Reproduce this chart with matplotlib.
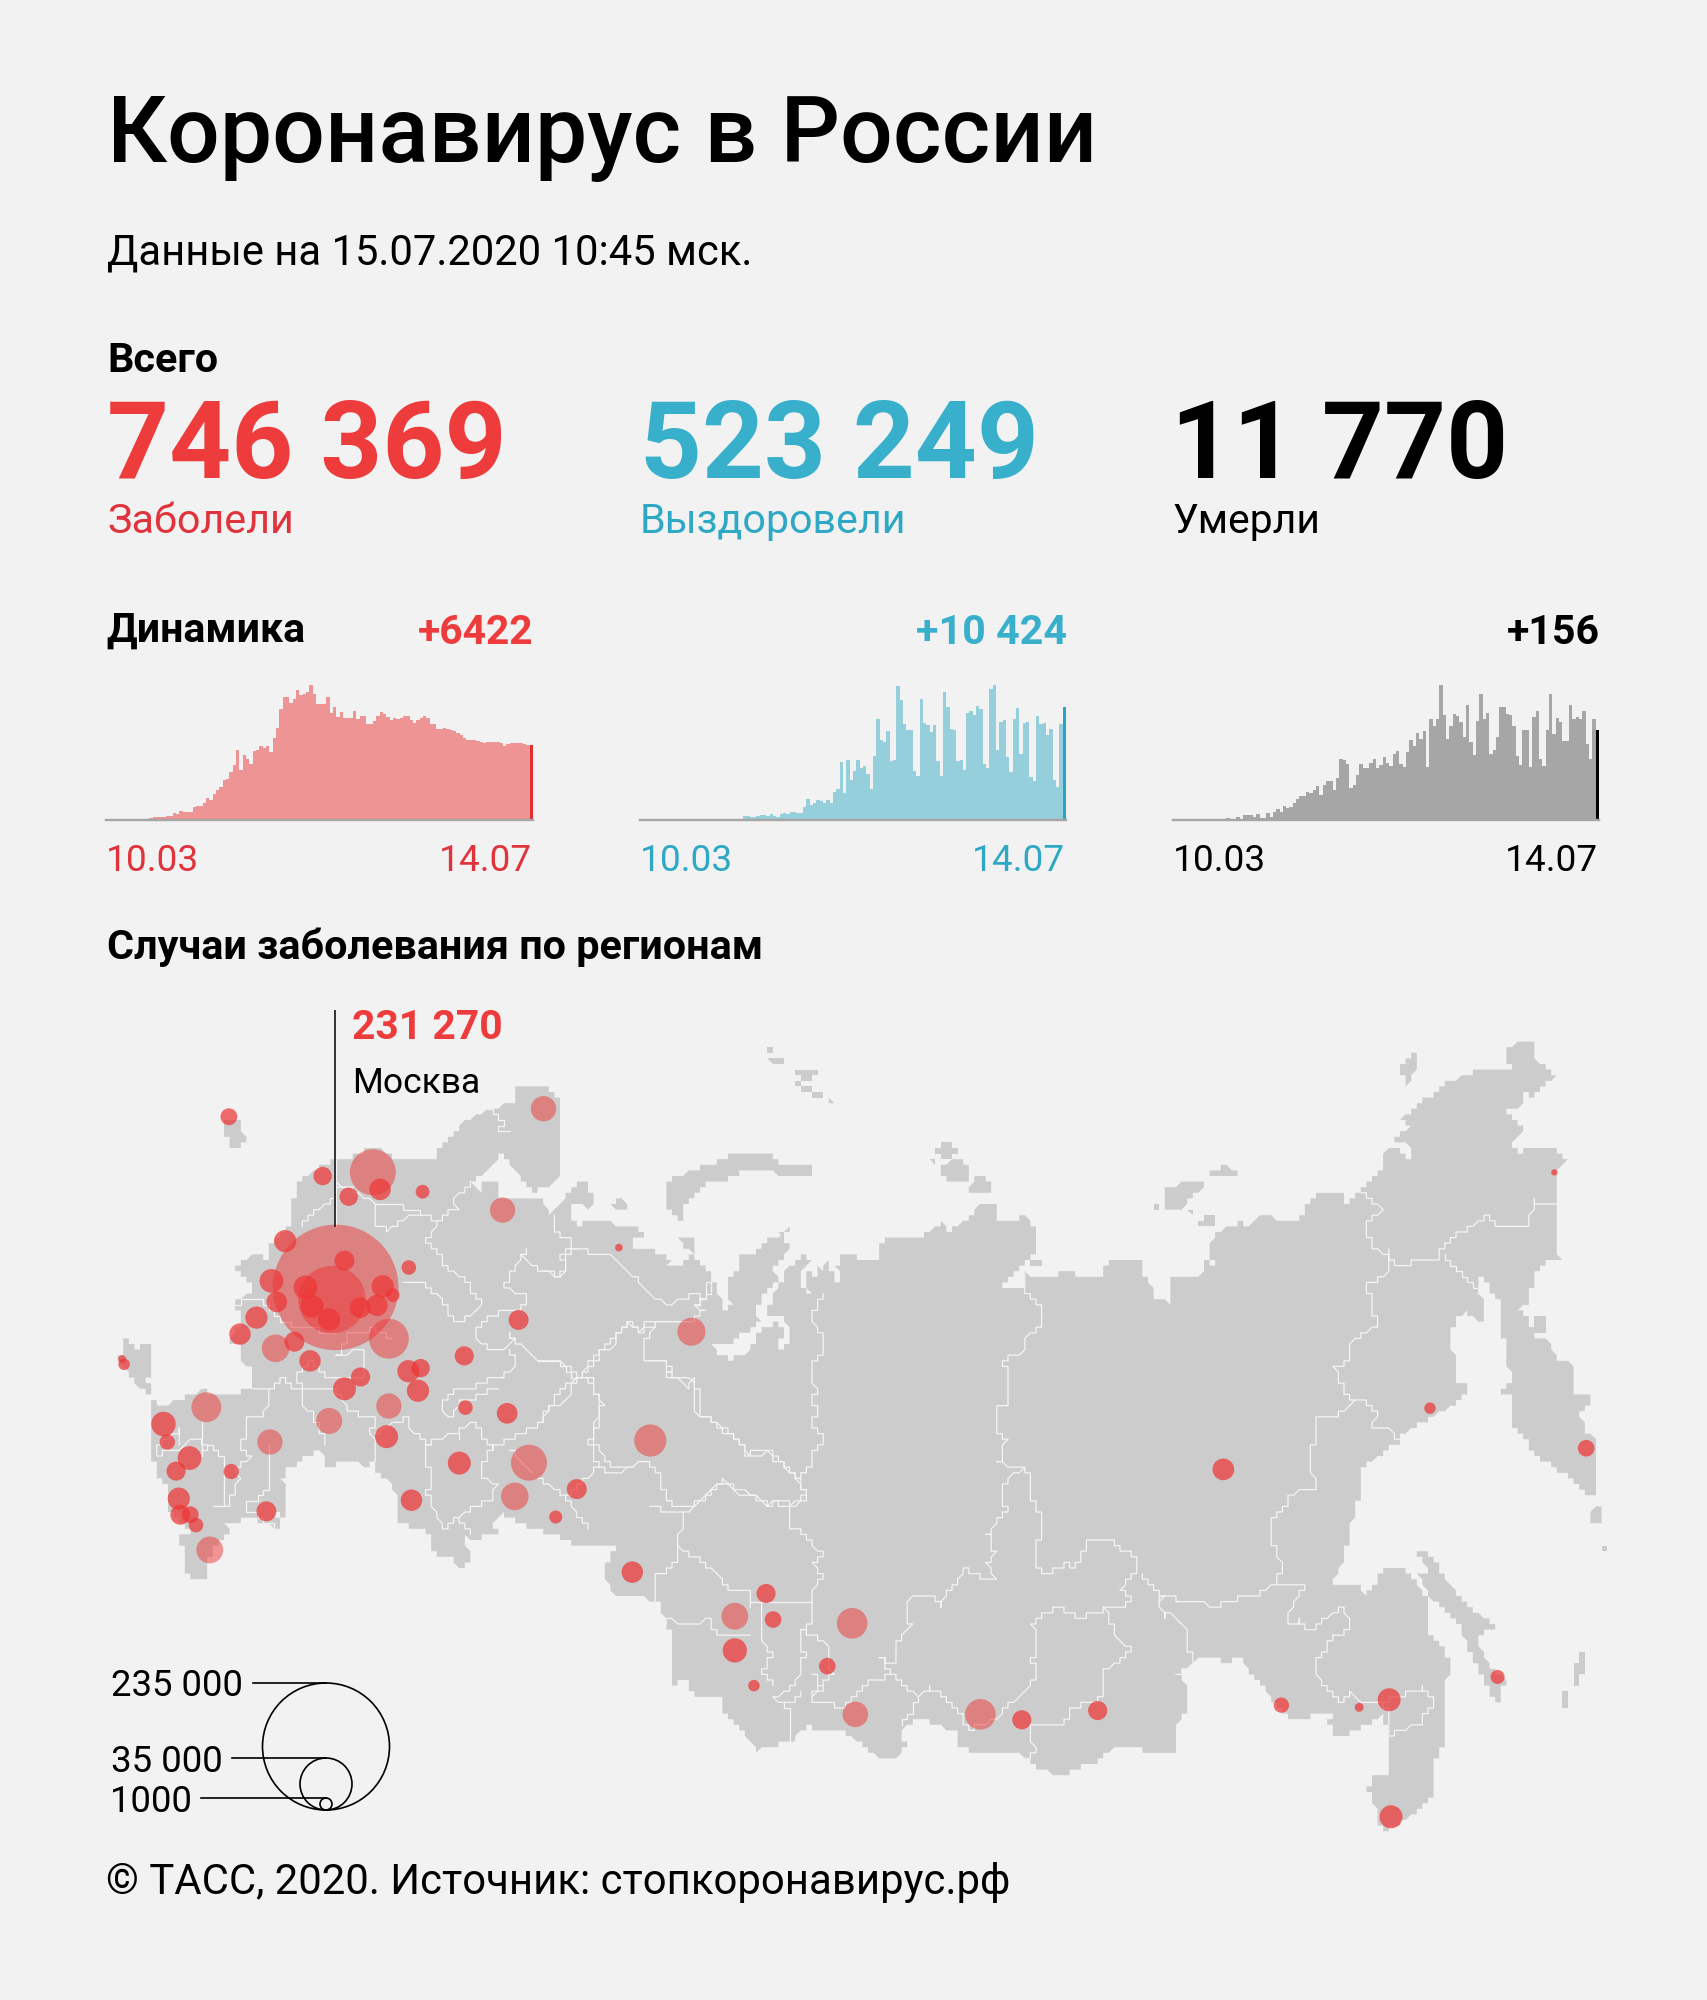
import numpy as np
import matplotlib
matplotlib.use('Agg')
import matplotlib.pyplot as plt
from matplotlib.patches import Circle, Polygon

plt.rcParams['font.family'] = ['Roboto', 'DejaVu Sans']

BG = '#f2f2f2'
LAND = '#cccccc'
RED = '#ee3b3c'
BLUE = '#38b0cc'

# daily numbers, 10.03 - 14.07
infected = [30,30,30,30,30,60,60,60,85,85,
    90,115,115,145,230,230,260,290,320,375,
    575,520,805,720,660,720,1095,1240,1240,1500,
    1870,1730,2245,2590,2795,3455,3515,4090,4750,6050,
    4320,5615,5270,4780,5905,5990,6335,6190,6395,5845,
    7085,7920,9560,10570,10570,10080,10425,11175,10715,10800,
    11000,11605,10800,9935,9935,9965,10570,9215,9675,8870,
    9245,8785,8785,8785,9390,8640,8930,8930,8295,8295,
    8495,8930,9245,9070,8870,8580,8810,8725,8810,8930,
    8930,8580,8350,8580,8810,8930,8785,8295,8235,7860,
    7805,7920,7860,7775,7660,7490,7285,7085,6855,6855,
    6855,6770,6710,6625,6740,6710,6680,6680,6650,6335,
    6510,6625,6625,6625,6625,6540,6420,6422]
recovered = [5,5,5,5,5,5,5,5,5,5,5,5,5,10,10,10,10,15,15,15,
    30,30,30,25,25,35,45,50,55,60,70,
    340,340,310,310,400,430,430,370,555,370,280,555,615,555,710,710,615,680,1170,
    1910,1390,1600,1850,1700,1540,1850,1540,2530,2870,5335,2470,5550,3700,4530,5550,4780,4930,4255,2870,
    5920,9250,7340,7185,8170,5400,5550,12335,11040,8790,8265,8265,4470,4010,11100,8945,8730,8080,8730,5400,
    4010,11720,10420,8390,8265,5400,5490,4565,9805,10025,9620,10485,10240,5180,4780,12030,12400,6385,9005,9190,
    5770,4410,9250,10330,6105,8945,9005,3950,3545,9560,8790,8880,7770,8390,3700,2990,8850,10424]
deaths = [0,0,0,0,0,0,0,0,0,0,0,0,0,0,0,0,
    3,2,2,5,2,9,9,8,6,10,4,4,12,6,14,19,14,25,21,23,29,36,42,42,
    49,46,52,58,44,61,68,68,51,73,106,103,97,55,60,77,96,89,90,99,
    105,90,95,109,98,94,114,119,96,92,117,138,128,151,140,154,92,175,163,175,
    233,182,139,163,183,179,170,144,198,135,113,171,218,175,184,114,120,144,195,195,
    183,182,162,110,95,155,156,92,177,188,105,94,155,217,148,176,169,136,136,199,
    175,177,175,188,131,105,175,156]

totals = ['746 369', '523 249', '11 770']
total_names = ['Заболели', 'Выздоровели', 'Умерли']
today = ['+6422', '+10 424', '+156']

# outline, each piece in the scale of its own crop
W = (90, 1000, 0.3827, 0.3827)
O = (540, 1130, 1/3, 1/3)
E = (650, 1000, 1/1.568, 1/1.845)
S = (90, 1400, 1/3, 1/3)

coast_north_west = [(520,545),(535,515),(535,490),(590,440),(640,418),(680,415),(735,385),(790,400),(800,418),(900,418),
    (915,385),(975,318),(1045,285),(1110,265),(1110,235),(1130,220),(1180,220),(1225,255),(1225,460),(1195,490),
    (1160,498),(1095,430),(1078,405),(1000,480),(1030,512),(1030,470),(1060,470),(1060,515),(1190,515)]
coast_ob = [(20,255),(40,240),(75,205),(130,145),(150,160),(150,185),(165,205),(150,235),(100,220),(95,270),
    (115,295),(135,280),(210,278),(250,295),(305,298),(320,315),(285,325),(285,350),(320,350),(360,375),
    (395,385),(385,410),(395,425),(400,408),(435,405),(440,370),(455,370),(510,430),(530,470),(550,540),
    (585,520),(565,510),(568,445),(605,405),(590,385),(605,372),(640,372),(700,315),(755,350),(700,415),
    (715,445),(645,535),(660,575),(600,620),(560,650),(510,640),(530,665),(567,690),(630,665),(665,590),
    (715,580),(737,600),(720,635),(720,655),(755,632),(755,600),(725,565),(680,562),(685,530),(700,495),
    (735,440),(735,420),(795,375),(810,395),(775,430),(775,465),(810,488),(795,460),(795,430),(815,430),
    (815,447),(830,447),(830,405),(850,425),(850,405),(868,395),(870,410),(905,480),(905,440),(885,410),
    (910,375),(945,375),(965,390),(1020,390),(1020,335)]
coast_east = [(362,445),(385,435),(430,435),(460,410),(462,430),(500,405),(518,375),(540,375),(540,400),(558,410),
    (590,398),(608,435),(608,460),(565,510),(550,535),(590,525),(590,505),(620,515),(640,505),(668,505),
    (668,515),(715,515),(710,490),(725,480),(770,480),(778,515),(785,525),(788,545),(815,560),(815,505),
    (830,515),(865,505),(868,480),(885,490),(875,460),(890,425),(915,420),(925,410),(935,420),(955,398),
    (975,398),(985,410),(1018,410),(1025,385),(1055,352),(1085,352),(1092,375),(1113,352),(1152,310),(1152,280),
    (1165,270),(1190,295),(1190,268),(1165,258),(1190,235),(1180,218),(1215,185),(1255,150),(1300,130),(1350,125),
    (1340,110),(1345,90),(1375,72),(1388,85),(1388,108),(1418,143),(1380,178),(1365,170),(1365,195),(1330,210),
    (1350,215),(1370,240),(1350,265),(1365,282),(1370,270),(1420,270),(1438,295),(1418,320),(1418,460),(1428,478),
    (1405,480),(1388,505),(1388,530),(1378,530),(1378,565),(1358,570),(1378,590),(1390,625),(1410,630),(1420,660),
    (1455,675),(1445,690),(1450,725),(1477,735),(1458,760),(1465,795),(1485,810),(1485,920),(1465,905),(1435,875),
    (1395,845),(1375,815),(1350,785),(1350,730),(1330,725),(1350,700),(1340,630),(1330,595),(1330,555),(1310,520),
    (1300,505),(1308,600),(1280,575),(1265,590),(1250,625),(1262,660),(1262,705),(1272,710),(1290,715),(1260,750),
    (1240,758),(1225,770),(1195,790),(1175,805),(1172,818),(1115,862),(1110,925),(1095,985),(1090,1030),(1075,1065),
    (1075,1075),(1105,1075),(1120,1095),(1120,1040),(1125,1075),(1125,1095),(1150,1050),(1185,1052),(1200,1075),(1220,1105),
    (1220,1165),(1245,1200),(1258,1235),(1250,1250),(1250,1360),(1230,1410),(1230,1465),(1200,1500),(1150,1535),(1143,1520),
    (1143,1500),(1125,1460),(1135,1430),(1160,1430),(1160,1360),(1150,1320),(1110,1345),(1085,1362),(1075,1355),(1063,1330),
    (1075,1315),(1040,1320),(1020,1328),(1005,1325),(965,1275),(925,1212),(905,1222),(880,1212),(860,1215),(828,1245),
    (845,1270),(845,1310),(825,1335),(825,1385),(775,1385),(760,1375),(735,1375),(700,1405),(680,1410),(648,1432),
    (610,1420),(590,1398),(570,1385),(500,1385),(480,1375),(480,1350),(420,1325),(395,1345),(400,1380),(390,1395),
    (355,1395),(305,1350),(280,1350),(245,1340),(225,1360),(222,1372),(180,1375),(170,1385),(115,1310),(115,1285),
    (65,1280),(55,1250),(35,1268),(35,1180),(25,1150),(15,1105),(0,1105)]
coast_orenburg = [(1375,1560),(1345,1510),(1345,1480),(1380,1420)]
coast_south = [(1445,430),(1380,400),(1330,390),(1300,375),(1240,340),(1200,375),(1218,385),(1218,410),(1190,395),(1160,430),
    (1130,410),(1125,425),(1142,470),(1142,490),(1110,505),(1090,490),(1085,470),(1065,470),(1065,485),(1030,450),
    (1030,410),(995,385),(935,375),(915,335),(915,280),(895,240),(860,220),(858,187),(825,200),(800,185),
    (750,185),(725,203),(692,203),(708,180),(692,150),(650,170),(612,200),(595,205),(595,232),(578,240),
    (595,260),(595,340),(575,355),(555,335),(575,375),(558,390),(530,365),(465,355),(430,375),(410,375),
    (420,395),(380,425),(345,500),(350,525),(330,543),(292,525),(292,450),(272,435),(272,410),(305,410),
    (290,385),(235,320),(235,260),(197,215),(197,185),(178,170),(178,0)]
coast_caucasus = [(190,1060),(240,1040),(275,1030),(300,1010),(305,1035),(360,1035),(420,1010),(420,960),(395,945),(390,905),
    (365,890),(390,850),(385,785),(430,755),(418,740),(386,708),(386,695),(425,665),(468,675),(468,650),
    (480,625),(530,590)]

islands_west = [
    [(60,945),(90,925),(90,880),(122,912),(155,895),(155,985),(135,985),(155,1005),(155,1025),(135,1020),(105,990),(90,955)],
    [(353,320),(400,320),(402,370),(390,382),(368,382),(353,345)],
]
islands_ob = [
    [(212,222),(245,203),(265,225),(265,240),(225,238)],
    [(420,330),(440,315),(455,315),(455,365),(440,355)],
    [(720,315),(745,295),(755,298),(735,315)],
]
islands_east = [
    [(25,335),(60,318),(112,295),(130,282),(185,282),(205,300),(250,305),(250,320),(240,328),(208,328),(190,315),(150,315),(135,325),(120,330),(90,340),(55,380),(55,420),(35,395),(25,375)],
    [(183,85),(192,90),(183,97)],[(185,108),(213,108),(213,120),(195,120)],[(205,130),(213,130),(213,138)],
    [(225,130),(262,130),(250,150),(235,145)],[(222,152),(240,155),(255,165),(240,165)],[(243,178),(270,170),(270,178)],[(272,178),(292,190),(285,190)],
    [(1172,125),(1200,98),(1200,130),(1188,155)],
    [(450,270),(468,260),(480,280),(475,292),(462,295),(450,285)],[(460,305),(482,292),(500,310),(500,330),(485,340),(460,325)],
    [(490,360),(518,320),(540,345),(538,352),(525,360)],[(440,293),(450,295),(450,305)],
    [(805,355),(815,340),(825,350),(835,330),(875,330),(870,345),(850,365),(835,385),(810,385)],
    [(875,320),(905,305),(922,320),(910,328),(895,328)],[(785,375),(795,375),(795,388)],[(845,390),(855,385),(855,398)],
    [(855,420),(870,398),(895,405),(875,422)],[(205,432),(222,422),(212,435)],[(598,480),(618,480),(610,492),(600,492)],
    [(1390,585),(1400,585),(1400,618),(1390,610)],
    [(1202,1015),(1220,1020),(1235,1040),(1240,1060),(1270,1100),(1290,1130),(1310,1140),(1338,1165),(1305,1165),(1300,1190),(1320,1235),(1345,1255),(1335,1270),(1338,1295),(1322,1290),(1300,1240),(1280,1190),(1270,1150),(1225,1105),(1205,1060),(1220,1055)],
    [(1428,1280),(1438,1270),(1438,1300),(1428,1315)],[(1450,1235),(1458,1205),(1468,1200),(1458,1265),(1450,1265)],
    [(1478,1160),(1485,1155),(1485,1180)],[(1488,1105),(1498,1095),(1488,1120)],[(1488,990),(1498,1005),(1498,1015),(1488,1010)],[(1478,940),(1488,930),(1488,965),(1478,965)],
]

borders_west = [
    [(1045,285),(1078,320),(1060,350),(1095,350)],
    [(555,590),(590,550),(640,515),(650,490),(690,490)],
    [(640,420),(640,590)],
    [(650,480),(745,530),(750,590),(780,600),(830,565),(880,565),(910,580),(945,550),(960,545),(945,520),(1000,480)],
    [(745,530),(860,545),(860,565)],
    [(910,580),(880,625),(920,680),(950,710),(985,735),(1000,770),(1025,795),(975,840),(950,835),(920,780),(870,745),(820,745)],
    [(1140,650),(1130,670),(1145,685),(1190,710),(1230,725),(1245,680),(1265,645)],
    [(1140,650),(1085,745),(1115,770),(1140,760),(1145,790),(1105,815),(1045,820),(1015,855),(1010,885),(1045,915),(1080,915),(1105,890),(1095,870),(1110,885),(1145,920),(1170,945),(1230,945),(1280,985),(1320,930),(1375,880),(1410,845),(1440,865),(1480,845),(1568,845)],
    [(1280,985),(1308,985),(1335,1060),(1325,1120),(1310,1145),(1360,1215),(1420,1215)],
    [(1100,920),(1110,960),(1080,985),(1040,990),(1010,1010),(960,1010),(925,1050),(920,1080),(950,1090),(965,1040),(1005,1040),(1060,1010)],
    [(1280,985),(1230,1020),(1175,1110),(1050,1170),(1000,1100),(960,1130),(890,1155),(880,1165),(880,1220),(895,1240),(880,1290),(925,1385),(960,1350),(1000,1390)],
    [(960,1130),(960,1150)],
    [(1050,1170),(1030,1210),(1025,1240),(1060,1270),(1050,1300),(960,1350)],
    [(1090,1170),(1160,1240)],
    [(420,1010),(470,1015),(500,990),(550,1020),(640,1015),(680,1075),(745,1095),(735,1130),(745,1180),(745,1205)],
    [(745,1130),(830,1090),(830,1120),(895,1165)],
    [(465,1020),(465,1060),(440,1095),(405,1095),(405,1145),(390,1160),(420,1195),(380,1225),(390,1250),(355,1330)],
    [(470,1160),(470,1270),(440,1300),(405,1310),(405,1330),(440,1350),(495,1385)],
    [(290,1105),(290,1185),(305,1160),(355,1200),(355,1260),(355,1320),(320,1330)],
    [(300,1160),(270,1145),(240,1170),(170,1190),(175,1165),(235,1125),(235,1160)],
    [(790,890),(740,860),(680,870),(650,930),(715,910),(715,985),(620,990),(580,940),(545,975),(550,1020)],
    [(385,790),(450,780),(490,830),(530,850),(640,870)],
    [(550,1020),(550,1060),(580,1080),(590,1105),(620,1160)],
]
borders_ob = [
    [(40,250),(40,280),(60,330),(100,330),(90,350),(60,390),(75,395),(75,425),(60,445),(40,430),(10,425)],
    [(100,352),(135,352),(155,372),(210,372),(340,500),(360,505),(385,525),(425,505),(470,490),(490,505),(470,530),(490,545),(465,560),(450,578),(320,580),(300,600),(265,580),(225,620),(220,650),(185,660),(170,690),(110,748),(95,770),(95,790),(60,825),(20,825),(15,870),(0,885)],
    [(490,490),(510,450),(510,485),(470,530)],
    [(345,585),(305,655),(310,685),(375,695),(395,710),(380,735),(420,750),(440,770),(455,750),(470,785),(455,810),(475,860),(510,865),(530,890),(580,920),(625,975),(665,975),(695,960),(710,985),(735,995),(740,1020),(775,1050),(800,1095),(780,1110),(740,1130),(700,1110),(685,1125),(640,1090),(600,1085),(550,1055),(510,1095),(480,1110),(440,1130),(415,1130),(380,1110),(355,1030),(320,995),(295,995),(275,1015),(210,1030),(175,1015),(170,1000),(150,940),(175,850),(190,825),(170,790),(135,735)],
    [(0,690),(55,690),(110,748)],
    [(170,1015),(135,1050),(75,1100),(95,1130),(145,1195)],
    [(0,1050),(60,1090),(75,1100)],
]
borders_east = [
    [(272,540),(252,590),(272,620),(272,655),(252,665),(252,700),(262,720),(252,740),(262,760),(252,780),(272,800),(272,820),(252,840),(252,860),(232,885),(243,910),(243,920),(215,945),(215,970),(245,985),(255,1010),(272,1020),(255,1040),(272,1065),(252,1090),(252,1150),(235,1170),(235,1195),(243,1205),(232,1250),(215,1272),(195,1290),(210,1300),(240,1280)],
    [(590,505),(590,540),(610,565),(618,595),(590,620),(585,650),(550,665),(558,680),(558,745),(548,750),(548,795),(558,810),(548,850),(570,865),(590,865),(600,885),(600,925),(618,965),(608,1000),(608,1050),(620,1060),(640,1050),(650,1040),(668,1045),(690,995),(725,992),(730,1010),(755,1020),(765,1035),(765,1062),(745,1065),(740,1090),(755,1110),(740,1120),(710,1120),(722,1130),(725,1170),(755,1200),(740,1212),(708,1245),(715,1270),(700,1295),(665,1305),(648,1340),(600,1340),(598,1370),(608,1385),(590,1398)],
    [(590,865),(570,870),(550,910),(558,940),(530,985),(540,1020),(530,1040),(540,1065),(525,1070),(495,1050),(460,1105),(460,1120),(440,1095),(410,1095),(400,1135),(408,1155),(385,1190),(382,1225),(362,1215),(380,1245),(340,1258),(305,1305),(250,1290),(270,1268),(255,1240)],
    [(1162,480),(1130,450),(1120,415),(1150,385),(1113,352)],
    [(1162,460),(1162,500),(1125,525),(1135,580),(1140,600),(1100,630),(1100,655),(1075,680),(1090,720),(1105,740),(1075,770),(1040,765),(1042,820),(1035,830),(1042,900),(1010,910),(975,960),(975,1000),(990,1040),(985,1075),(955,1095),(920,1105),(885,1118),(835,1108),(800,1098),(770,1062)],
    [(1162,480),(1180,490),(1205,480),(1240,480),(1240,458),(1270,430),(1310,400),(1340,420),(1375,418),(1390,365),(1390,375),(1418,375)],
    [(1245,470),(1310,548),(1310,600)],
    [(1105,740),(1120,735),(1140,760),(1132,785),(1145,790),(1155,785),(1170,800),(1172,815)],
    [(985,1075),(1030,1075),(1015,1100),(1003,1130),(1005,1155),(1020,1145),(1035,1165),(1060,1140),(1085,1120),(1095,1140),(1100,1165),(1070,1170),(1065,1190),(1045,1220),(1042,1240),(1080,1295),(1100,1280),(1115,1295),(1145,1295),(1160,1320),(1160,1360)],
    [(1145,1295),(1160,1290),(1210,1270),(1232,1295),(1210,1325),(1205,1340),(1170,1345),(1162,1360)],
    [(795,1105),(810,1098),(800,1110),(805,1140),(815,1130),(845,1165),(845,1195),(855,1220),(828,1245)],
    [(710,1125),(675,1140),(645,1120),(620,1132),(600,1155),(608,1185),(600,1220),(608,1240),(590,1275),(560,1305),(545,1325),(500,1345),(480,1305),(440,1270),(420,1285),(405,1270),(380,1245)],
    [(420,1285),(410,1310),(395,1335)],
    [(0,665),(30,665),(25,680),(45,700),(65,700),(75,720),(75,770),(95,770),(135,810),(155,838),(185,828),(195,850),(215,860),(232,885)],
    [(0,935),(45,945),(60,945),(95,905),(115,885),(135,908),(165,915),(185,935),(205,920),(222,935)],
    [(50,945),(55,960),(45,990),(45,1030),(5,1070),(5,1105)],
    [(45,1010),(75,1030),(105,1060),(125,1085),(155,1085),(155,1120)],
    [(155,1105),(252,1108)],
    [(175,1105),(175,1180),(190,1210),(175,1245),(195,1260)],
    [(25,1150),(35,1142),(50,1155),(95,1142),(105,1175),(160,1175)],
    [(235,1160),(280,1190),(285,1240),(250,1290)],
    [(210,1300),(222,1320),(222,1370)],
]

west_x = [1185,363,739,608,758,676,869,1078,642,632,510,665,833,474,563,765,488,580,791,750,706,625,435,392,1120,781,534,485,575,978,84,89,864,832,707,857,665,781,981,304,1090,192,625,202,775,470,1464,260,1147,225,965,369,1272,232,1110,840,1217,236,262,461,277,313,1417,1382]
west_y = [284,305,450,460,495,514,501,549,751,783,630,681,699,734,751,748,789,800,771,798,804,835,830,873,836,885,893,910,943,930,938,952,962,970,985,1021,1016,1061,1065,1064,1080,1108,1100,1155,1141,1155,1151,1197,1209,1231,1210,1232,1278,1303,1297,1307,1351,1345,1345,1336,1372,1437,1495,647]
west_r = [33,22,60,24,28,24,18,33,164,88,29,26,19,31,31,29,27,30,18,28,27,29,29,28,26,52,26,36,28,25,10,15,24,29,25,29,30,33,19,39,27,32,34,20,30,33,42,31,47,25,30,20,26,29,36,28,17,26,22,26,19,35,28,10]
east_x = [65,182,133,193,133,163,317,278,322,518,583,702,899,990,1112,1159,1162,1223,1468,1329,1418]
east_y = [612,1095,1137,1143,1200,1265,1150,1229,1318,1318,1328,1311,866,1301,1305,1291,1507,753,827,1249,318]
east_r = [22,15,21,13,19,9,24,13,20,24,15,15,17,12,7,18,18,9,13,11,5]

legend_labels = ['235 000', '35 000', '1000']
legend_r = [63.5, 26, 6]

GRID = 5.6


def crop_to_page(points, crop):
    x0, y0, sx, sy = crop
    return [(x0 + px * sx, y0 + py * sy) for px, py in points]


def pixelate(points, closed=True):
    # the map is drawn on a coarse grid, so every edge walks from node to node
    pts = np.array(points, dtype=float)
    if closed:
        pts = np.vstack([pts, pts[:1]])
    out = []
    for a, b in zip(pts[:-1], pts[1:]):
        n = max(int(np.hypot(*(b - a)) / (GRID / 3)), 1)
        for t in np.linspace(0, 1, n, endpoint=False):
            node = tuple(np.round((a + (b - a) * t) / GRID) * GRID)
            if not out or out[-1] != node:
                out.append(node)
    if not closed:
        out.append(tuple(np.round(pts[-1] / GRID) * GRID))
    return np.array(out)


fig = plt.figure(figsize=(17.07, 20), dpi=100, facecolor=BG)
ax = fig.add_axes([0, 0, 1, 1])
ax.set_xlim(0, 1707)
ax.set_ylim(2000, 0)
ax.axis('off')
renderer = fig.canvas.get_renderer()


def put(x, y, s, width, px, color='black', weight='normal', ha='left'):
    # size is corrected so the string gets the same length as in the picture
    t = ax.text(x, y, s, color=color, fontweight=weight, fontsize=px * 0.72, ha=ha, va='baseline')
    w = t.get_window_extent(renderer).width
    t.set_fontsize(px * 0.72 * width / w)
    return t


put(107, 162, 'Коронавирус в России', 991, 90, weight='medium')
put(107, 265, 'Данные на 15.07.2020 10:45 мск.', 645, 42)
put(107, 372, 'Всего', 111, 38, weight='bold')

num_x = [107, 640, 1171]
num_w = [399, 399, 337]
name_x = [107, 640, 1172]
name_w = [187, 267, 148]
num_colors = [RED, BLUE, 'black']
name_colors = ['#e0333b', '#2ea8c4', 'black']
for i in range(3):
    put(num_x[i], 478, totals[i], num_w[i], 110, color=num_colors[i], weight='bold')
    put(name_x[i], 533, total_names[i], name_w[i], 42, color=name_colors[i])

put(106, 642, 'Динамика', 199, 38, weight='bold')
day_right = [533, 1067, 1600]
day_w = [116, 151, 93]
for i in range(3):
    put(day_right[i], 644, today[i], day_w[i], 38, color=num_colors[i], weight='bold', ha='right')

# small charts
chart_left = [106, 640, 1173]
chart_w = [427, 426, 426]
series = [infected, recovered, deaths]
bar_colors = ['#ee9494', '#95cfdc', '#a6a6a6']
last_colors = ['#e32e2e', '#27a6c3', 'black']
tick_colors = ['#e0333b', '#2ea8c4', 'black']
tick_left = [106, 640, 1173]
tick_right = [532, 1065, 1598]
for i in range(3):
    a = fig.add_axes([chart_left[i] / 1707, 1 - 820 / 2000, chart_w[i] / 1707, 135 / 2000])
    a.axis('off')
    vals = np.array(series[i])
    xs = np.arange(len(vals))
    a.bar(xs[:-1], vals[:-1], width=1.0, color=bar_colors[i], linewidth=0)
    a.bar(xs[-1], vals[-1], width=1.0, color=last_colors[i], linewidth=0, zorder=2)
    a.axhline(0, color='#a6a6a6', lw=1.7, zorder=3, clip_on=False)
    a.set_xlim(-0.5, len(vals) - 0.5)
    a.set_ylim(0, vals.max())
    put(tick_left[i], 871, '10.03', 93, 38, color=tick_colors[i])
    put(tick_right[i], 871, '14.07', 93, 38, color=tick_colors[i], ha='right')

put(107, 959, 'Случаи заболевания по регионам', 657, 38, weight='bold')

# map
outline = (crop_to_page(coast_north_west, W) + crop_to_page(coast_ob, O) + crop_to_page(coast_east, E)
           + crop_to_page(coast_orenburg, W) + crop_to_page(coast_south, S) + crop_to_page(coast_caucasus, W))
land = Polygon(pixelate(outline), closed=True, facecolor=LAND, edgecolor='none', zorder=1)
ax.add_patch(land)
for shapes, crop in [(islands_west, W), (islands_ob, O), (islands_east, E)]:
    for shape in shapes:
        ax.add_patch(Polygon(pixelate(crop_to_page(shape, crop)), closed=True, facecolor=LAND, edgecolor='none', zorder=1))

for lines, crop in [(borders_west, W), (borders_ob, O), (borders_east, E)]:
    for line in lines:
        pts = pixelate(crop_to_page(line, crop), closed=False)
        ln, = ax.plot(pts[:, 0], pts[:, 1], color='#f4f4f4', lw=0.9, zorder=2, solid_joinstyle='round')
        ln.set_clip_path(land)

for xs, ys, rs, crop in [(west_x, west_y, west_r, W), (east_x, east_y, east_r, E)]:
    for cx, cy, cr in zip(xs, ys, rs):
        (px, py), = crop_to_page([(cx, cy)], crop)
        r = cr * crop[2]
        ax.add_patch(Circle((px, py), r, facecolor='#ee3535', edgecolor='none',
                            alpha=0.5 if r > 12.5 else 0.72, zorder=3))

ax.plot([335, 335], [1011, 1226], color='#333333', lw=1.4, zorder=4)
put(352, 1039, '231 270', 151, 40, color=RED, weight='bold')
put(352, 1093, 'Москва', 128, 38)

# size legend, circles stand on one bottom point
leg_x = 326
leg_bottom = 1810
label_right = [243, 223, 192]
label_base = [1696, 1772, 1812]
line_start = [253, 232, 201]
label_w = [132, 112, 82]
for i in range(3):
    r = legend_r[i]
    ax.add_patch(Circle((leg_x, leg_bottom - r), r, fill=False, edgecolor='black', lw=1.2, zorder=5))
    ax.plot([line_start[i], leg_x], [leg_bottom - 2 * r] * 2, color='black', lw=1.2, zorder=5)
    put(label_right[i], label_base[i], legend_labels[i], label_w[i], 38, ha='right')

put(106, 1894, '© ТАСС, 2020. Источник: стопкоронавирус.рф', 905, 42)

fig.savefig('out.png', dpi=100, facecolor=BG)
